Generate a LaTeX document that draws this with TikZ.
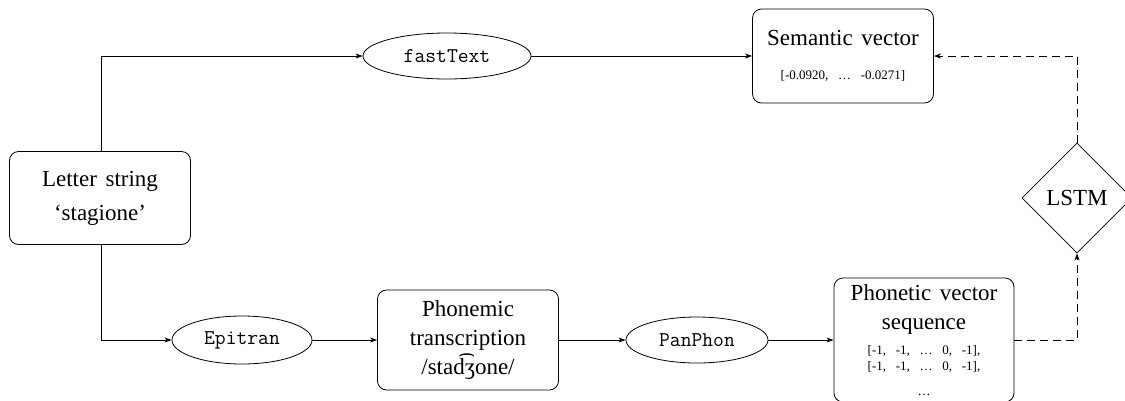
\documentclass[tikz,border=0pt]{standalone}
\usepackage{fontspec}
\setmainfont{Liberation Serif}[WordSpace=1.5]
\usetikzlibrary{shapes.geometric,arrows.meta}
\tikzset{
  base/.style={line width=0.8pt},
  box/.style={base, draw, rounded corners=9pt, minimum width=181pt, inner sep=0pt, align=center, font=\fontsize{23}{29}\selectfont},
  tool/.style={base, draw, ellipse, inner sep=0pt, font=\fontsize{21}{22}\ttfamily},
  gate/.style={base, draw, diamond, minimum width=110pt, minimum height=110pt, inner sep=0pt, font=\fontsize{23}{27}\selectfont},
  arr/.style={base, -{Stealth[length=7pt,width=5pt,inset=2pt]}},
  darr/.style={arr, dash pattern=on 8pt off 5pt}
}
\newcommand{\sm}[1]{{\fontsize{13}{13}\selectfont #1}}
\begin{document}
\begin{tikzpicture}[x=1pt,y=-1pt]
\useasboundingbox (0,0) rectangle (1125,400);
\node[box, minimum height=93pt] (letter) at (100,198) {Letter string\\[5pt]‘stagione’};
\node[box, minimum height=94pt] (sem) at (843,56) {Semantic vector\\[5pt]\sm{[-0.0920,~~…~~-0.0271]}};
\node[tool, minimum width=168pt, minimum height=46pt] (fast) at (447,56) {fastText};
\node[tool, minimum width=140pt, minimum height=48pt] (epi) at (242,340) {Epitran};
\node[box, minimum height=100pt] (phm) at (468,340) {\fontsize{23}{30}\selectfont Phonemic\\transcription\\/stad͡ʒone/};
\node[tool, minimum width=142pt, minimum height=46pt] (pan) at (697,340) {PanPhon};
\node[box, minimum height=124pt, minimum width=180pt] (pho) at (924,340) {\fontsize{23}{26}\selectfont Phonetic vector\\sequence\\[-4pt]\sm{[-1,~~-1,~~…~~0,~~-1],}\\[-13pt]\sm{[-1,~~-1,~~…~~0,~~-1],}\\[-4pt]\sm{…}};
\node[gate] (lstm) at (1077,198) {LSTM};
\coordinate (c1) at (101,56);
\coordinate (c2) at (101,340);
\coordinate (c3) at (1077,340);
\coordinate (c4) at (1077,56);
\draw[arr] (letter.north -| c1) -- (c1) -- (fast.west);
\draw[arr] (fast.east) -- (sem.west);
\draw[arr] (letter.south -| c2) -- (c2) -- (epi.west);
\draw[arr] (epi.east) -- (phm.west);
\draw[arr] (phm.east) -- (pan.west);
\draw[arr] (pan.east) -- (pho.west);
\draw[darr] (pho.east) -- (c3) -- (lstm.south);
\draw[darr] (lstm.north) -- (c4) -- (sem.east);
\end{tikzpicture}
\end{document}
